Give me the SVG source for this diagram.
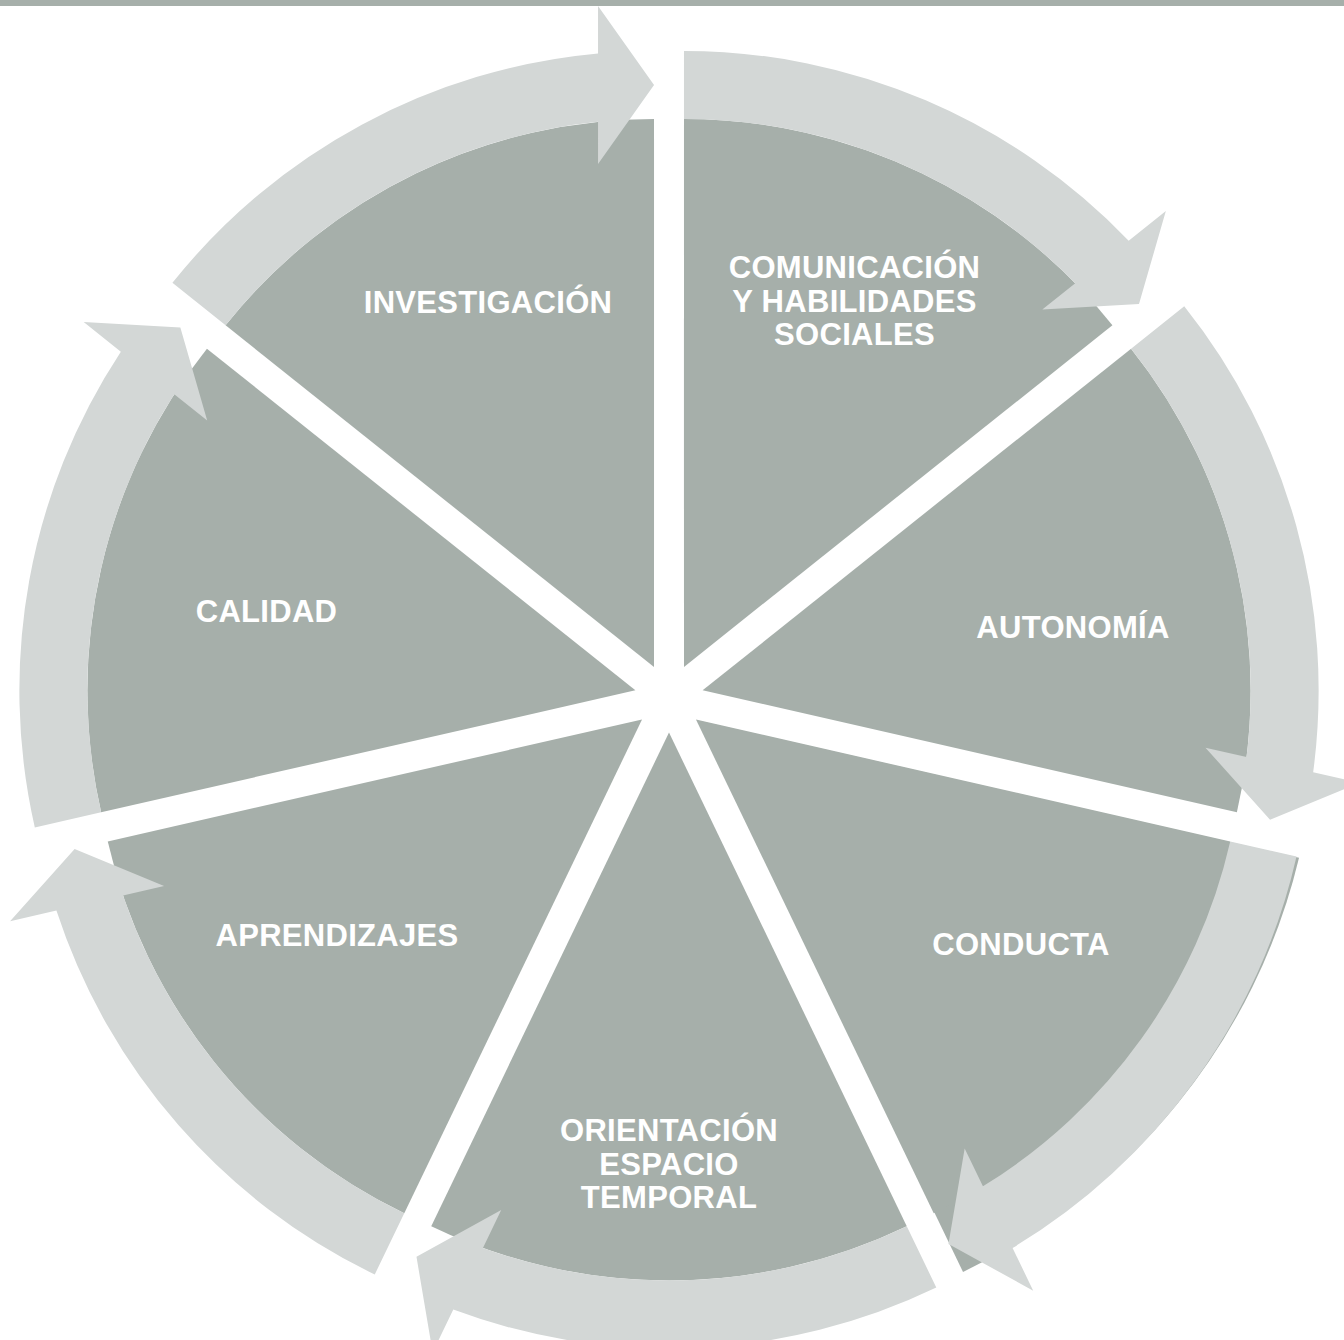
<svg xmlns="http://www.w3.org/2000/svg" width="1344" height="1340" viewBox="0 0 1344 1340">
<style>
.pie{fill:#a6afaa}
.arr{fill:#d3d7d6}
.t{font-family:"Liberation Sans",Arial,sans-serif;font-weight:bold;font-size:31px;fill:#ffffff;text-anchor:middle;letter-spacing:0.3px}
</style>
<defs>
<path id="pieShape" d="M0,0 L341.67,-428.44 A548,548 0 0 1 548,0 Z"/>
<path id="arrShape" d="M384.07,-481.61 A616,616 0 0 1 613.45,-56 L661,-56 L582,0 L503,-56 L545.13,-56 A548,548 0 0 0 341.67,-428.44 Z"/>
</defs>
<rect x="0" y="0" width="1344" height="1340" fill="#ffffff"/>
<rect x="0" y="0" width="1344" height="6" fill="#a6afaa"/>
<g id="node-comunicacion">
<use href="#pieShape" class="pie" transform="translate(683.97,666.92) rotate(-38.571)"/>
<text class="t" x="854.5" y="278">COMUNICACIÓN</text>
<text class="t" x="854.5" y="311.5">Y HABILIDADES</text>
<text class="t" x="854.5" y="345">SOCIALES</text>
</g>
<g id="node-autonomia">
<use href="#pieShape" class="pie" transform="translate(702.63,690.32) rotate(12.857)"/>
<text class="t" x="1073" y="638">AUTONOMÍA</text>
</g>
<g id="node-conducta">
<path class="pie" d="M0,0 L384.7,-482.4 A617.5,617.5 0 0 1 612,0 Z" transform="translate(697.5,720.5) rotate(64.286)"/>
<use href="#pieShape" class="pie" transform="translate(695.97,719.51) rotate(64.286)"/>
<text class="t" x="1021" y="955">CONDUCTA</text>
</g>
<g id="node-orientacion">
<use href="#pieShape" class="pie" transform="translate(669,732.5) rotate(115.714)"/>
<text class="t" x="669" y="1141">ORIENTACIÓN</text>
<text class="t" x="669" y="1174.5">ESPACIO</text>
<text class="t" x="669" y="1208">TEMPORAL</text>
</g>
<g id="node-aprendizajes">
<use href="#pieShape" class="pie" transform="translate(642.03,719.51) rotate(167.143)"/>
<text class="t" x="337" y="946">APRENDIZAJES</text>
</g>
<g id="node-calidad">
<use href="#pieShape" class="pie" transform="translate(635.37,690.32) rotate(218.571)"/>
<text class="t" x="266.5" y="622">CALIDAD</text>
</g>
<g id="node-investigacion">
<use href="#pieShape" class="pie" transform="translate(654.03,666.92) rotate(270)"/>
<text class="t" x="488" y="313">INVESTIGACIÓN</text>
</g>
<g id="connectors">
<use href="#arrShape" class="arr" transform="translate(683.97,666.92) rotate(-38.571)"/>
<use href="#arrShape" class="arr" transform="translate(702.63,690.32) rotate(12.857)"/>
<use href="#arrShape" class="arr" transform="translate(695.97,719.51) rotate(64.286)"/>
<use href="#arrShape" class="arr" transform="translate(669,732.5) rotate(115.714)"/>
<use href="#arrShape" class="arr" transform="translate(642.03,719.51) rotate(167.143)"/>
<use href="#arrShape" class="arr" transform="translate(635.37,690.32) rotate(218.571)"/>
<use href="#arrShape" class="arr" transform="translate(654.03,666.92) rotate(270)"/>
</g>
</svg>
